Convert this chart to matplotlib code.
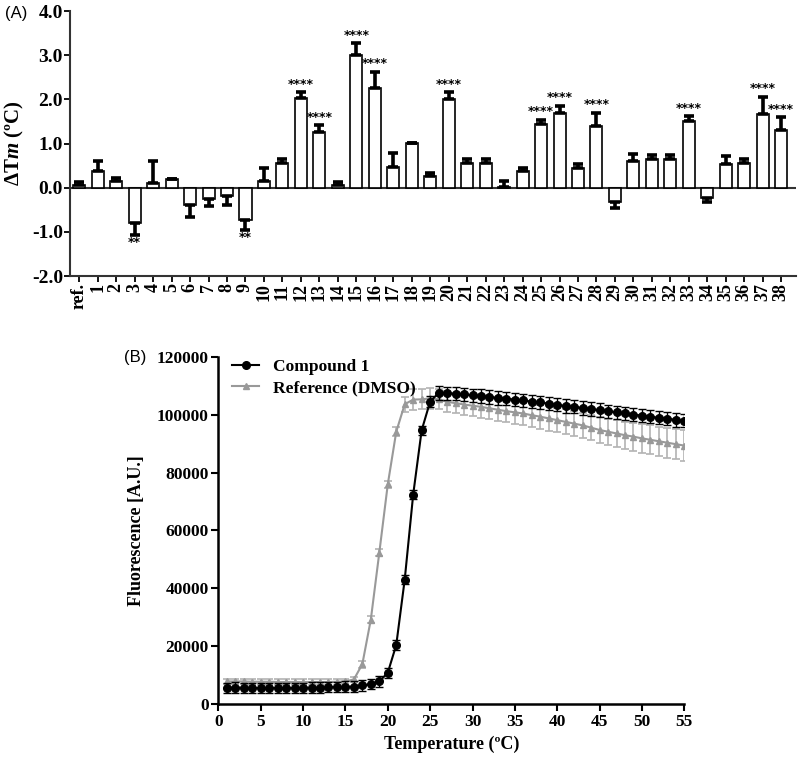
import matplotlib
matplotlib.use('Agg')
import matplotlib.pyplot as plt
from matplotlib.lines import Line2D
import numpy as np

plt.rcParams['font.family'] = ['Liberation Serif', 'DejaVu Serif']
plt.rcParams['font.weight'] = 'bold'
plt.rcParams['axes.labelweight'] = 'bold'
plt.rcParams['axes.unicode_minus'] = False
plt.rcParams['mathtext.fontset'] = 'custom'
plt.rcParams['mathtext.it'] = 'Liberation Serif:italic:bold'
plt.rcParams['mathtext.rm'] = 'Liberation Serif:bold'

# ---- (A) delta Tm per compound ----
compounds = ['ref.'] + [str(i) for i in range(1, 39)]
delta_tm = [0.06, 0.37, 0.15, -0.79, 0.10, 0.20, -0.39, -0.26, -0.18, -0.73,
            0.16, 0.55, 2.04, 1.27, 0.05, 3.01, 2.26, 0.47, 1.01, 0.27,
            2.01, 0.55, 0.55, 0.02, 0.37, 1.45, 1.70, 0.45, 1.40, -0.32,
            0.61, 0.65, 0.65, 1.50, -0.23, 0.54, 0.56, 1.67, 1.30]
delta_tm_err = [0.06, 0.23, 0.08, 0.28, 0.51, 0.00, 0.28, 0.15, 0.21, 0.23,
                0.28, 0.09, 0.13, 0.15, 0.09, 0.27, 0.37, 0.32, 0.00, 0.07,
                0.15, 0.09, 0.09, 0.14, 0.07, 0.09, 0.16, 0.09, 0.30, 0.13,
                0.15, 0.08, 0.08, 0.12, 0.09, 0.17, 0.08, 0.39, 0.30]
significance = {'3': '**', '9': '**', '12': '****', '13': '****', '15': '****',
                '16': '****', '20': '****', '25': '****', '26': '****',
                '28': '****', '33': '****', '37': '****', '38': '****'}

# ---- (B) melting curves ----
temperature = list(range(1, 56))
compound1 = [5600, 5700, 5600, 5600, 5500, 5600, 5500, 5500, 5600, 5600,
             5700, 5700, 5800, 5900, 6000, 6000, 6400, 6900, 7800, 10800,
             20400, 43000, 72400, 94600, 104500, 107500, 107400, 107200, 107000, 106700,
             106400, 106100, 105800, 105500, 105200, 104900, 104500, 104200, 103800, 103400,
             103000, 102700, 102300, 101900, 101600, 101200, 100800, 100400, 100000, 99700,
             99300, 98900, 98600, 98200, 97900]
compound1_err = [1800] * 19 + [1800, 1800, 1500, 1500, 1500, 2000] + [2300] * 30
reference = [7800, 7800, 7800, 7700, 7700, 7700, 7600, 7600, 7600, 7600,
             7600, 7600, 7600, 7700, 7800, 8500, 13800, 29200, 52300, 75900,
             94100, 103600, 105200, 105300, 105600, 105300, 104400, 104000, 103500, 103100,
             102700, 102200, 101700, 101200, 100800, 100400, 99800, 99300, 98700, 98100,
             97500, 96900, 96300, 95500, 94700, 94100, 93500, 92900, 92400, 91800,
             91300, 90800, 90300, 89800, 89300]
reference_err = [1000] * 16 + [1200, 1200, 1200, 1200, 1500, 2600, 3500, 3500, 3500, 3500,
                               3600, 3600, 3700, 3700, 3800, 3800, 3900, 3900, 4000, 4000,
                               4100, 4100, 4200, 4200, 4300, 4300, 4400, 4400, 4500, 4500,
                               4600, 4700, 4800, 4900, 5000, 5100, 5200, 5300, 5300]

fig = plt.figure(figsize=(8, 7.57), dpi=100)

# top panel
ax1 = fig.add_axes([0.0875, 0.6354, 0.9075, 0.350])
x = np.arange(len(compounds))
vals = np.array(delta_tm)
errs = np.array(delta_tm_err)
lower = np.where(vals < 0, errs, 0)
upper = np.where(vals >= 0, errs, 0)
ax1.bar(x, vals, width=0.65, color='white', edgecolor='black', linewidth=1.2, zorder=2)
ax1.errorbar(x, vals, yerr=[lower, upper], fmt='none', ecolor='black',
             elinewidth=2.6, capsize=3.5, capthick=2.6, zorder=3)
ax1.axhline(0, color='#333333', linewidth=1.5, zorder=1)
for i, name in enumerate(compounds):
    if name in significance:
        if vals[i] >= 0:
            ax1.text(i, vals[i] + errs[i] + 0.03, significance[name], ha='center', va='bottom',
                     fontsize=9, family='DejaVu Sans')
        else:
            ax1.text(i, vals[i] - errs[i] - 0.02, significance[name], ha='center', va='top',
                     fontsize=9, family='DejaVu Sans')
ax1.set_xlim(-0.5, 38.8)
ax1.set_ylim(-2, 4)
ax1.set_yticks([-2, -1, 0, 1, 2, 3, 4])
ax1.set_yticklabels(['-2.0', '-1.0', '0.0', '1.0', '2.0', '3.0', '4.0'], fontsize=14)
ax1.set_xticks(x)
ax1.set_xticklabels(compounds, rotation=90, fontsize=13)
ax1.set_ylabel('ΔT$m$ (ºC)', fontsize=15, labelpad=4)
for side in ['top', 'right']:
    ax1.spines[side].set_visible(False)
for side in ['left', 'bottom']:
    ax1.spines[side].set_linewidth(1.5)
    ax1.spines[side].set_color('#333333')
ax1.tick_params(width=1.3, length=4, pad=1)
fig.text(0.006, 0.982, '(A)', family='Liberation Sans', fontweight='normal', fontsize=12,
         va='center')

# bottom panel
ax2 = fig.add_axes([0.2729, 0.0700, 0.5825, 0.4587])
ax2.errorbar(temperature, reference, yerr=reference_err, color='#999999', ecolor='#b3b3b3',
             marker='^', markersize=5, linewidth=1.5, elinewidth=1.2, capsize=3, capthick=1.2,
             zorder=2)
ax2.errorbar(temperature, compound1, yerr=compound1_err, color='black', ecolor='black',
             marker='o', markersize=5.5, linewidth=1.5, elinewidth=1.0, capsize=3, capthick=1.0,
             zorder=3)
ax2.set_xlim(0, 55)
ax2.set_ylim(0, 120000)
ax2.set_xticks(range(0, 56, 5))
ax2.set_yticks(range(0, 120001, 20000))
ax2.tick_params(labelsize=12.5, width=1.5, length=5, pad=2)
ax2.set_xlabel('Temperature (ºC)', fontsize=13)
ax2.set_ylabel('Fluorescence [A.U.]', fontsize=13, labelpad=8)
for side in ['top', 'right']:
    ax2.spines[side].set_visible(False)
for side in ['left', 'bottom']:
    ax2.spines[side].set_linewidth(1.8)
legend_handles = [
    Line2D([], [], color='black', marker='o', markersize=5.5, linewidth=1.5),
    Line2D([], [], color='#999999', marker='^', markersize=5, linewidth=1.5),
]
ax2.legend(legend_handles, ['Compound 1', 'Reference (DMSO)'], loc='upper left',
           bbox_to_anchor=(-0.005, 1.04), frameon=False, fontsize=12.5, handlelength=1.6,
           handletextpad=0.8, labelspacing=0.3)
fig.text(0.155, 0.528, '(B)', family='Liberation Sans', fontweight='normal', fontsize=12,
         va='center')

fig.savefig('out.png', dpi=100)
